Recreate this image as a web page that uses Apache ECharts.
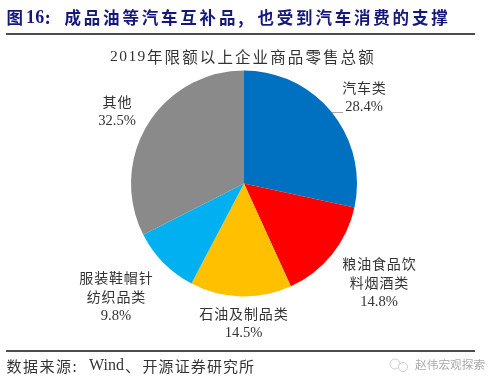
<!DOCTYPE html>
<html><head><meta charset="utf-8">
<style>html,body{margin:0;padding:0;background:#fff}#c{width:500px;height:386px}</style>
<script src="https://cdn.jsdelivr.net/npm/echarts@6/dist/echarts.min.js"></script>
</head><body><div id="c"></div>
<script>
const categories = ['汽车类','粮油食品饮\n料烟酒类','石油及制品类','服装鞋帽针\n纺织品类','其他'];
const values = [28.4,14.8,14.5,9.8,32.5];
const colors = ['#0070c0','#ff0000','#ffc000','#00b0f0','#8a8a8a'];
const labelCenters = [[364,97.5],[379,283],[243.5,323.5],[116,297],[117,111]];
const SERIF = '"Liberation Serif"';
const CJK = '"Noto Sans CJK SC"';
const NAVY = '#14187a', INK = '#333';
// text runs: [text, start x, step per char, font]
const headingRuns = [
  ['图',6.5,19,'bold 16.5px '+CJK],['16',26,9.2,'bold 18px '+SERIF],[':',45,19,'bold 16.5px '+CJK],
  ['成品油等汽车互补品,也受到汽车消费的支撑',64.5,19.3,'bold 16.5px '+CJK]
];
const titleRuns = [['2019',110,9.2,'15.5px '+SERIF],['年限额以上企业商品零售总额',147,17.6,'15.5px '+CJK]];
const sourceRuns = [
  ['数据来源:',6.5,16.5,'15px '+CJK],['Wind',89,0,'16px '+SERIF],['、',125,16,'15px '+CJK],
  ['开源证券研究所',142.5,16.1,'15px '+CJK]
];
const watermark = '赵伟宏观探索';
function runText(runs,y,fill){
  const out=[];
  runs.forEach(([t,x,step,font])=>{
    const parts = step ? Array.from(t) : [t];
    parts.forEach((ch,i)=>out.push({type:'text',x:x+i*step,y:y,
      style:{text:ch,font:font,fill:fill,verticalAlign:'middle',textAlign:'left'}}));
  });
  return out;
}
const spread = s => s.split('\n').map(l=>'{c|'+Array.from(l).join('\u200a')+'}').join('\n');
const chart = echarts.init(document.getElementById('c'));
chart.setOption({
  animation:false,
  backgroundColor:'#fff',
  graphic:[
    ...runText(headingRuns,18,NAVY),
    {type:'line',shape:{x1:6,y1:34,x2:475,y2:34},style:{stroke:'#111',lineWidth:1.5}},
    ...runText(titleRuns,57,INK),
    {type:'line',shape:{x1:6,y1:351,x2:475,y2:351},style:{stroke:'#111',lineWidth:1.5}},
    ...runText(sourceRuns,366,INK),
    {type:'circle',shape:{cx:395,cy:364,r:5},style:{fill:'none',stroke:'#d0d0d0',lineWidth:1}},
    {type:'circle',shape:{cx:403,cy:367,r:4.5},style:{fill:'#fff',stroke:'#d0d0d0',lineWidth:1}},
    {type:'text',x:415,y:365,style:{text:watermark,font:'11.7px '+CJK,fill:'#aaa',verticalAlign:'middle'}},
    {type:'line',z:5,shape:{x1:332,y1:112.5,x2:343,y2:112.5},style:{stroke:'#aaa',lineWidth:1}}
  ],
  series:[{
    type:'pie',
    center:[244,183.5],
    radius:[0,113],
    startAngle:90,
    clockwise:true,
    data:categories.map((n,i)=>({name:n,value:values[i],itemStyle:{color:colors[i]}})),
    label:{show:true,position:'outside',
      formatter:p=>spread(p.name)+'\n{n|'+p.value.toFixed(1)+'%}',
      rich:{
        c:{fontFamily:CJK,fontSize:14,lineHeight:19.5,color:INK,align:'center'},
        n:{fontFamily:SERIF,fontSize:14.6,lineHeight:19.5,color:INK,align:'center'}
      },
      align:'center',verticalAlign:'middle'},
    labelLine:{show:false},
    labelLayout:p=>({x:labelCenters[p.dataIndex][0],y:labelCenters[p.dataIndex][1],align:'center',verticalAlign:'middle'}),
    emphasis:{disabled:true}
  }]
});
</script></body></html>
